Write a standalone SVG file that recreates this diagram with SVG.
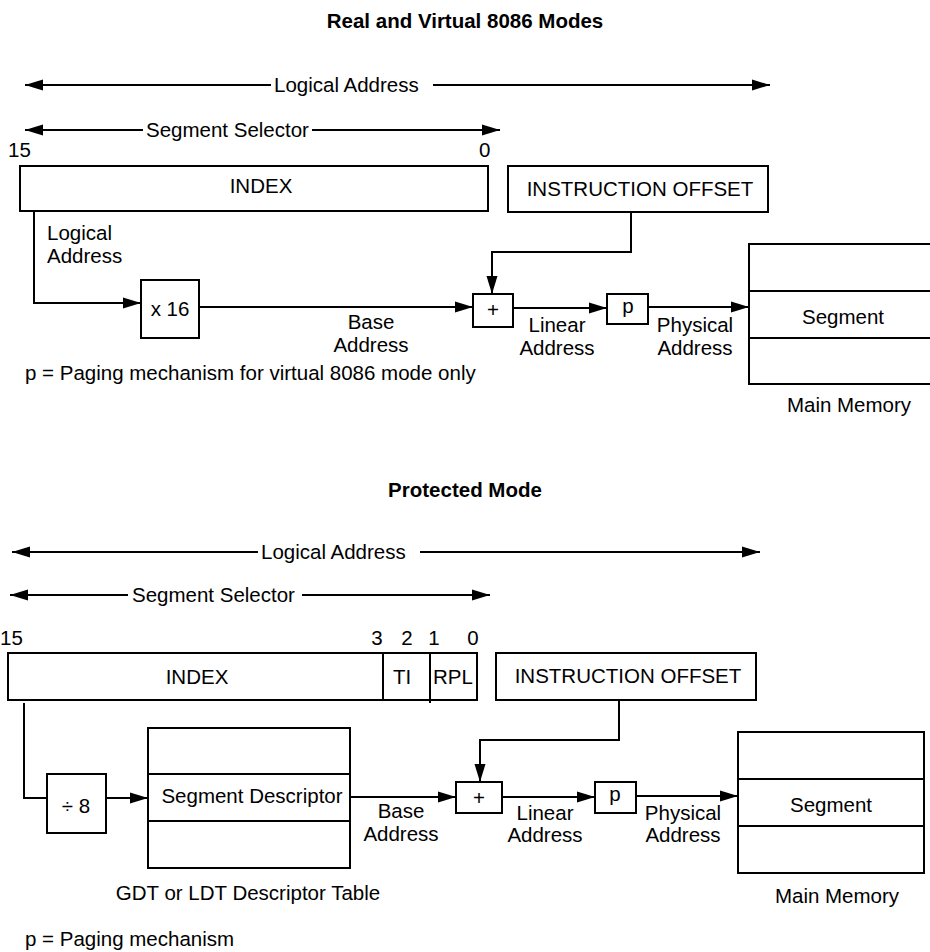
<svg xmlns="http://www.w3.org/2000/svg" width="930" height="952" viewBox="0 0 930 952">
<style>
text{font-family:"Liberation Sans",Arial,sans-serif;font-size:20.5px;fill:#000}
.b{font-weight:bold}
.m{text-anchor:middle}
.bx,.ln{fill:none;stroke:#000;stroke-width:2}
.ar{marker-end:url(#ah)}
.as{marker-start:url(#ah)}
</style>
<defs>
<marker id="ah" markerUnits="userSpaceOnUse" markerWidth="19" markerHeight="12" refX="18" refY="6" orient="auto-start-reverse">
<path d="M0,0.5 L18,6 L0,11.5 z" fill="#000"/>
</marker>
</defs>
<rect x="0" y="0" width="930" height="952" fill="#fff"/>

<!-- Top section -->
<text class="b m" x="465" y="28">Real and Virtual 8086 Modes</text>
<g id="top-dims">
<path class="ln as" d="M25,85 H271"/>
<text x="274" y="92">Logical Address</text>
<path class="ln ar" d="M433,85 H770"/>
<path class="ln as" d="M25,130 H143"/>
<text x="146" y="137">Segment Selector</text>
<path class="ln ar" d="M312,130 H500"/>
<text x="8" y="157">15</text>
<text x="479" y="157">0</text>
</g>
<g id="t-index">
<rect class="bx" x="20" y="166" width="468" height="45"/>
<text class="m" x="261" y="193">INDEX</text>
</g>
<g id="t-offset">
<rect class="bx" x="508" y="166" width="260" height="46"/>
<text class="m" x="640" y="196">INSTRUCTION OFFSET</text>
</g>
<g id="t-x16">
<rect class="bx" x="141" y="280" width="58" height="58"/>
<text class="m" x="170" y="316">x 16</text>
</g>
<g id="t-plus">
<rect class="bx" x="473" y="294" width="40" height="33"/>
<text class="m" x="493" y="317">+</text>
</g>
<g id="t-p">
<rect class="bx" x="607" y="294" width="41" height="30"/>
<text class="m" x="628" y="313">p</text>
</g>
<g id="t-mem">
<rect class="bx" x="749" y="244" width="188" height="140"/>
<path class="ln" d="M749,291 H937 M749,338 H937"/>
<text class="m" x="843" y="324">Segment</text>
<text class="m" x="849" y="412">Main Memory</text>
</g>
<g id="t-connectors">
<path class="ln ar" d="M34,211 V303 H141"/>
<path class="ln ar" d="M199,307 H473"/>
<path class="ln ar" d="M631,212 V252 H492 V294"/>
<path class="ln ar" d="M513,308 H607"/>
<path class="ln ar" d="M648,307 H749"/>
</g>
<g id="t-labels">
<text x="47" y="240">Logical</text>
<text x="47" y="263">Address</text>
<text class="m" x="371" y="329">Base</text>
<text class="m" x="371" y="352">Address</text>
<text class="m" x="557" y="332">Linear</text>
<text class="m" x="557" y="355">Address</text>
<text class="m" x="695" y="332">Physical</text>
<text class="m" x="695" y="355">Address</text>
<text x="25" y="380">p = Paging mechanism for virtual 8086 mode only</text>
</g>

<!-- Bottom section -->
<text class="b m" x="465" y="497">Protected Mode</text>
<g id="bottom-dims">
<path class="ln as" d="M12,552 H258"/>
<text x="261" y="559">Logical Address</text>
<path class="ln ar" d="M420,552 H760"/>
<path class="ln as" d="M10,595 H128"/>
<text x="132" y="602">Segment Selector</text>
<path class="ln ar" d="M302,595 H490"/>
<text x="0" y="645">15</text>
<text class="m" x="377" y="645">3</text>
<text class="m" x="407" y="645">2</text>
<text class="m" x="434" y="645">1</text>
<text class="m" x="473" y="645">0</text>
</g>
<g id="b-selector">
<rect class="bx" x="8" y="653" width="469" height="47"/>
<path class="ln" d="M383,653 V700 M430,653 V703"/>
<text class="m" x="197" y="684">INDEX</text>
<text class="m" x="402" y="684">TI</text>
<text class="m" x="453" y="684">RPL</text>
</g>
<g id="b-offset">
<rect class="bx" x="496" y="653" width="260" height="47"/>
<text class="m" x="628" y="683">INSTRUCTION OFFSET</text>
</g>
<g id="b-div8">
<rect class="bx" x="47" y="774" width="59" height="59"/>
<text class="m" x="76" y="813">÷ 8</text>
</g>
<g id="b-table">
<rect class="bx" x="148" y="728" width="202" height="140"/>
<path class="ln" d="M148,774 H350 M148,821 H350"/>
<text class="m" x="252" y="803">Segment Descriptor</text>
<text class="m" x="248" y="900">GDT or LDT Descriptor Table</text>
</g>
<g id="b-plus">
<rect class="bx" x="456" y="782" width="46" height="31"/>
<text class="m" x="479" y="805">+</text>
</g>
<g id="b-p">
<rect class="bx" x="595" y="782" width="41" height="31"/>
<text class="m" x="615" y="801">p</text>
</g>
<g id="b-mem">
<rect class="bx" x="738" y="732" width="186" height="141"/>
<path class="ln" d="M738,779 H924 M738,826 H924"/>
<text class="m" x="831" y="812">Segment</text>
<text class="m" x="837" y="903">Main Memory</text>
</g>
<g id="b-connectors">
<path class="ln" d="M24,703 V798 H47"/>
<path class="ln ar" d="M106,798 H148"/>
<path class="ln ar" d="M350,797 H456"/>
<path class="ln ar" d="M619,700 V740 H480 V782"/>
<path class="ln ar" d="M502,797 H595"/>
<path class="ln ar" d="M636,796 H738"/>
</g>
<g id="b-labels">
<text class="m" x="401" y="818">Base</text>
<text class="m" x="401" y="841">Address</text>
<text class="m" x="545" y="820">Linear</text>
<text class="m" x="545" y="842">Address</text>
<text class="m" x="683" y="820">Physical</text>
<text class="m" x="683" y="842">Address</text>
<text x="25" y="946">p = Paging mechanism</text>
</g>
</svg>
